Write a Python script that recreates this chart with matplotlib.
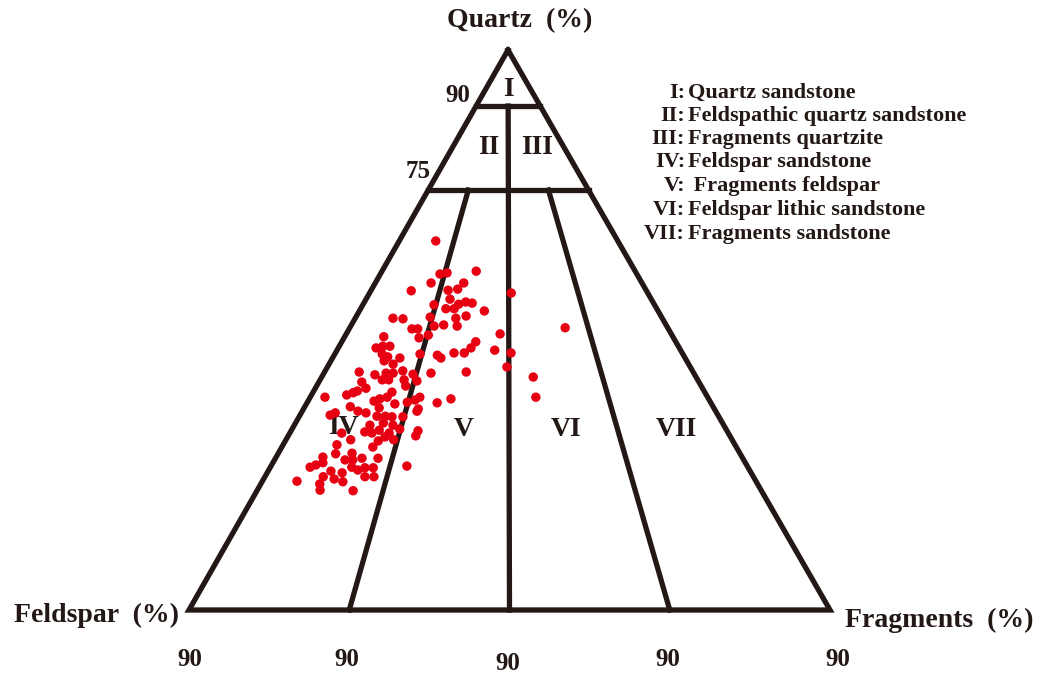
import matplotlib
matplotlib.use("Agg")
import matplotlib.pyplot as plt
import numpy as np

# ---- data: ternary compositions (%) of samples ----
quartz = [65.9, 60.0, 60.2, 60.5, 58.4, 58.4, 57.0, 57.1, 57.3, 56.6, 55.5, 54.6, 55.0, 54.8,
          54.5, 53.8, 53.8, 53.4, 52.1, 52.0, 52.3, 52.1, 52.5, 50.7, 50.9, 50.7, 50.2, 50.2,
          49.1, 48.6, 48.8, 49.3, 47.9, 46.8, 47.1, 47.1, 46.8, 46.4, 50.4, 45.7, 45.2, 45.0,
          44.5, 43.9, 45.7, 45.5, 45.0, 45.9, 45.9, 45.9, 43.4, 42.5, 42.0, 42.3, 42.3, 42.7,
          42.1, 42.3, 42.5, 41.1, 41.1, 41.1, 40.9, 40.7, 39.6, 40.0, 41.6, 38.0, 38.4, 38.8,
          39.1, 38.9, 38.0, 37.3, 37.7, 36.8, 37.1, 37.5, 38.0, 37.0, 37.7, 38.0, 36.3, 36.1,
          35.5, 35.2, 35.9, 34.8, 35.2, 34.5, 34.6, 34.6, 34.5, 35.5, 33.0, 33.4, 33.0, 31.8,
          31.6, 32.1, 31.6, 32.3, 32.0, 31.1, 31.6, 30.4, 30.2, 30.9, 30.4, 29.5, 29.1, 27.9,
          28.0, 27.1, 27.3, 26.8, 26.8, 27.1, 25.5, 25.9, 26.3, 25.5, 25.0, 25.4, 25.4, 24.8,
          24.5, 25.7, 23.0, 23.8, 23.4, 22.9, 23.8, 23.8, 22.5, 21.4, 21.3]
fragments = [5.7, 9.3, 10.3, 14.7, 8.7, 13.8, 6.3, 12.0, 13.4, 22.1, 13.1, 14.9, 15.8, 16.9,
             11.1, 13.3, 14.6, 19.5, 5.9, 7.5, 11.6, 15.7, 17.1, 13.0, 14.4, 16.6, 9.8, 10.7,
             12.9, 11.7, 6.1, 24.0, 20.9, 5.9, 6.8, 7.9, 20.7, 24.6, 33.6, 7.4, 8.5, 10.5,
             8.3, 10.0, 13.3, 16.1, 16.9, 18.5, 20.1, 27.4, 28.0, 5.4, 8.1, 9.7, 10.8, 12.1,
             14.0, 16.7, 22.1, 9.7, 10.7, 13.1, 15.2, 6.7, 7.9, 13.9, 33.0, 2.3, 5.5, 6.3,
             6.8, 12.3, 12.0, 10.3, 11.0, 13.8, 15.6, 16.6, 17.1, 20.3, 22.1, 35.2, 7.1, 11.7,
             8.7, 10.1, 17.9, 4.7, 5.3, 16.2, 12.1, 13.4, 14.5, 17.9, 11.8, 13.7, 15.4, 11.6,
             12.8, 13.7, 15.5, 16.8, 19.8, 19.9, 8.1, 10.1, 14.5, 15.2, 16.8, 8.4, 14.2, 9.0,
             11.5, 16.0, 7.3, 11.0, 12.2, 13.5, 6.2, 6.9, 7.8, 12.7, 13.9, 14.8, 16.1, 9.8,
             11.7, 21.2, 5.4, 9.1, 11.0, 12.6, 15.6, 17.0, 9.2, 9.8, 15.0]
feldspar = [100 - q - r for q, r in zip(quartz, fragments)]

# classification boundaries
q_lines = [90, 75]
region_labels = ["I", "II", "III", "IV", "V", "VI", "VII"]
legend_names = ["Quartz sandstone", "Feldspathic quartz sandstone", "Fragments quartzite",
                "Feldspar sandstone", " Fragments feldspar", "Feldspar lithic sandstone",
                "Fragments sandstone"]
base_ticks = ["90", "90", "90", "90", "90"]

# ---- layout ----
W, H = 1043, 673
fig = plt.figure(figsize=(W / 100, H / 100), dpi=100)
ax = fig.add_axes([0, 0, 1, 1])
ax.set_xlim(0, W)
ax.set_ylim(H, 0)
ax.axis("off")

TOP = np.array([508.0, 50.0])
LEFT = np.array([189.0, 610.0])
RIGHT = np.array([830.0, 610.0])


def tern(q, f, r):
    s = q + f + r
    p = (q * TOP + f * LEFT + r * RIGHT) / s
    return p[0], p[1]


LC = "#231815"
LW = 3.8
serif = "Liberation Serif"

# triangle
tri = [TOP, LEFT, RIGHT, TOP]
ax.plot([p[0] for p in tri], [p[1] for p in tri], color=LC, lw=LW,
        solid_joinstyle="miter", zorder=2)

# horizontal quartz lines
for ql in q_lines:
    x1, y1 = tern(ql, 100 - ql, 0)
    x2, y2 = tern(ql, 0, 100 - ql)
    ax.plot([x1, x2], [y1, y2], color=LC, lw=LW, zorder=2)

# F:R ratio lines
x1, y1 = tern(90, 5, 5)
x2, y2 = tern(0, 50, 50)
ax.plot([x1, x2], [y1, y2], color=LC, lw=LW, zorder=2)
for fr in (75, 25):
    x1, y1 = tern(75, 25 * fr / 100, 25 * (100 - fr) / 100)
    x2, y2 = tern(0, fr, 100 - fr)
    ax.plot([x1, x2], [y1, y2], color=LC, lw=LW, zorder=2)

# points
pts = [tern(q, f, r) for q, f, r in zip(quartz, feldspar, fragments)]
ax.scatter([p[0] for p in pts], [p[1] for p in pts], s=46, color="#e60012",
           edgecolors="none", zorder=3)

tk = dict(family=serif, fontweight="bold", color=LC)

# region labels
reg_xy = [(508, 89), (489, 147), (537, 147), (343, 428), (464, 430), (566, 430), (676, 430)]
for lab, (x, y) in zip(region_labels, reg_xy):
    ax.text(x, y, lab, ha="center", va="center", fontsize=20, zorder=1, **tk)

# axis titles
ax.text(520, 21, "Quartz  (%)", ha="center", va="center", fontsize=20, **tk)
ax.text(96, 615, "Feldspar  (%)", ha="center", va="center", fontsize=20, **tk)
ax.text(939, 620, "Fragments  (%)", ha="center", va="center", fontsize=20, **tk)

# quartz ticks
ax.text(458, 96, "90", ha="center", va="center", fontsize=18, **tk)
ax.text(418, 171, "75", ha="center", va="center", fontsize=18, **tk)

# base ticks
base_xy = [(190, 660), (347, 660), (508, 663), (668, 660), (838, 660)]
for lab, (x, y) in zip(base_ticks, base_xy):
    ax.text(x, y, lab, ha="center", va="center", fontsize=18, **tk)

# legend
leg_y = [93, 116, 139, 162, 186, 210, 234]
for lab, name, y in zip(region_labels, legend_names, leg_y):
    ax.text(685, y, lab + ":", ha="right", va="center", fontsize=16, **tk)
    ax.text(688, y, name, ha="left", va="center", fontsize=16, **tk)

fig.savefig("out.png", dpi=100)
